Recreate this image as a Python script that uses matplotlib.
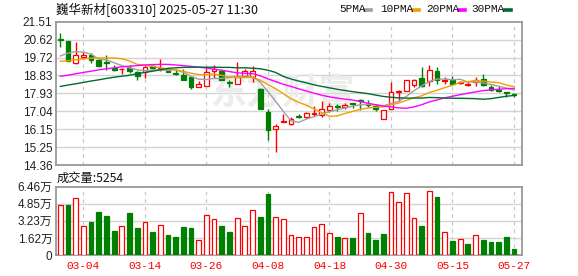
import matplotlib
matplotlib.use("Agg")
import matplotlib.pyplot as plt
from matplotlib.lines import Line2D

plt.rcParams['font.family'] = ['Liberation Sans', 'Noto Sans CJK SC', 'DejaVu Sans']

# =============================================================================
# Data
# =============================================================================

title = "巍华新材[603310] 2025-05-27 11:30"

date_idx = [3, 11, 19, 27, 35, 43, 51, 59]
date_labels = ["03-04", "03-14", "03-26", "04-08", "04-18", "04-30", "05-15", "05-27"]

opens = [20.65, 20.55, 19.44, 19.74, 19.84, 19.61, 19.51, 19.21, 19.13, 19.19,
         19.01, 18.98, 19.31, 19.14, 19.18, 18.96, 18.86, 18.76, 18.25, 18.30,
         19.03, 19.04, 18.50, 18.40, 18.81, 18.74, 18.16, 17.01, 16.16, 16.51,
         16.41, 16.82, 16.76, 16.92, 16.86, 17.12, 17.32, 17.24, 17.45, 17.62,
         17.42, 17.32, 16.67, 17.17, 17.98, 18.05, 18.36, 18.69, 18.53, 19.06,
         18.56, 18.61, 18.45, 18.36, 18.50, 18.65, 18.25, 18.08, 18.00, 17.88]
highs = [20.93, 20.57, 20.50, 19.99, 19.97, 19.67, 19.84, 19.36, 19.22, 19.34,
         19.04, 19.32, 19.34, 19.64, 19.21, 19.11, 19.14, 18.79, 18.56, 19.27,
         19.34, 19.11, 18.61, 19.52, 19.13, 19.31, 18.18, 17.15, 16.43, 16.91,
         16.76, 16.91, 16.99, 17.32, 17.54, 17.45, 17.42, 17.44, 17.47, 17.63,
         17.62, 17.42, 17.12, 18.48, 18.12, 18.61, 18.66, 19.27, 19.36, 19.27,
         18.74, 18.78, 18.56, 18.50, 18.73, 18.91, 18.36, 18.28, 18.02, 17.97]
lows = [20.24, 19.54, 19.41, 19.64, 19.47, 19.27, 19.08, 19.04, 18.91, 18.94,
        18.58, 18.68, 19.13, 19.04, 18.98, 18.86, 18.60, 18.15, 18.25, 18.28,
        18.71, 18.58, 18.25, 18.38, 18.74, 18.51, 17.14, 15.60, 15.00, 16.49,
        16.38, 16.69, 16.72, 16.79, 16.76, 17.01, 17.07, 17.17, 17.19, 17.12,
        17.25, 17.07, 16.67, 17.15, 17.55, 18.03, 18.25, 18.25, 18.31, 18.41,
        18.41, 18.35, 18.38, 18.31, 18.31, 18.31, 18.07, 17.99, 17.75, 17.75]
closes = [20.58, 19.56, 19.85, 19.87, 19.61, 19.32, 19.44, 19.09, 19.16, 19.06,
          18.78, 19.26, 19.19, 19.21, 19.00, 18.91, 18.61, 18.25, 18.41, 18.99,
          19.16, 18.61, 18.45, 18.74, 19.03, 19.06, 17.15, 16.13, 16.33, 16.54,
          16.66, 16.77, 16.94, 16.96, 17.15, 17.29, 17.25, 17.35, 17.40, 17.55,
          17.35, 17.15, 17.12, 18.00, 18.03, 18.60, 18.62, 18.31, 19.11, 18.58,
          18.60, 18.40, 18.48, 18.41, 18.61, 18.33, 18.08, 18.03, 17.93, 17.85]

ma5 = [19.80, 19.94, 20.02, 19.99, 19.89, 19.64, 19.61, 19.46, 19.32, 19.21,
       19.11, 19.07, 19.09, 19.10, 19.08, 19.11, 18.98, 18.79, 18.64, 18.63,
       18.68, 18.68, 18.72, 18.79, 18.80, 18.78, 18.49, 18.02, 17.54, 17.04,
       16.56, 16.49, 16.65, 16.77, 16.90, 17.02, 17.12, 17.20, 17.29, 17.37,
       17.38, 17.36, 17.31, 17.43, 17.53, 17.78, 18.07, 18.31, 18.53, 18.65,
       18.65, 18.61, 18.64, 18.50, 18.50, 18.45, 18.38, 18.29, 18.20, 18.10]
ma10 = [19.54, 19.56, 19.61, 19.66, 19.69, 19.70, 19.70, 19.70, 19.66, 19.55,
        19.38, 19.34, 19.28, 19.21, 19.15, 19.11, 19.03, 18.94, 18.87, 18.86,
        18.90, 18.83, 18.76, 18.72, 18.72, 18.73, 18.59, 18.37, 18.17, 17.92,
        17.67, 17.49, 17.34, 17.16, 16.97, 16.79, 16.81, 16.93, 17.03, 17.14,
        17.20, 17.24, 17.26, 17.36, 17.45, 17.58, 17.72, 17.81, 17.98, 18.09,
        18.22, 18.34, 18.48, 18.52, 18.58, 18.55, 18.50, 18.47, 18.35, 18.27]
ma20 = [18.79, 18.84, 18.91, 18.98, 19.04, 19.11, 19.16, 19.21, 19.26, 19.29,
        19.32, 19.35, 19.37, 19.38, 19.38, 19.35, 19.32, 19.28, 19.24, 19.20,
        19.14, 19.09, 19.02, 18.96, 18.93, 18.92, 18.81, 18.66, 18.52, 18.39,
        18.28, 18.16, 18.05, 17.94, 17.84, 17.76, 17.70, 17.65, 17.60, 17.53,
        17.44, 17.37, 17.30, 17.26, 17.21, 17.19, 17.26, 17.37, 17.51, 17.61,
        17.71, 17.79, 17.87, 17.94, 18.01, 18.07, 18.11, 18.14, 18.17, 18.18]
ma30 = [18.28, 18.35, 18.41, 18.48, 18.55, 18.61, 18.68, 18.74, 18.79, 18.84,
        18.91, 18.98, 19.04, 19.11, 19.18, 19.21, 19.23, 19.24, 19.24, 19.24,
        19.24, 19.23, 19.23, 19.21, 19.21, 19.19, 19.16, 19.09, 18.98, 18.78,
        18.65, 18.55, 18.46, 18.36, 18.28, 18.21, 18.14, 18.08, 18.02, 17.97,
        17.92, 17.85, 17.78, 17.74, 17.71, 17.70, 17.70, 17.70, 17.73, 17.72,
        17.70, 17.69, 17.69, 17.68, 17.67, 17.64, 17.67, 17.73, 17.79, 17.83]

volumes = [46950, 46950, 53570, 27100, 31200, 40650, 36870, 22690, 27100, 39700,
           25520, 31200, 21740, 28040, 18900, 17000, 26470, 25520, 14180, 37500,
           33720, 27410, 21740, 34660, 27100, 42220, 35920, 57660, 35600, 33720,
           18590, 16700, 17330, 26150, 28990, 20480, 17010, 15750, 16070, 39390,
           20800, 14490, 19850, 59240, 49790, 58300, 34660, 27410, 60180, 54830,
           21430, 13230, 14810, 10400, 18590, 14180, 11970, 11970, 17010, 5254]
# R = up day (hollow red bar), G = down day (filled green bar)
vol_dir = "RGRRGGGGRG" "GRGRGGGGRR" "RGGRRRGGRR" "RRRRRRGRGR" "GGGRRRRGRG" "RGRGRGGGGG"

price_ticks = [14.36, 15.25, 16.15, 17.04, 17.93, 18.83, 19.72, 20.62, 21.51]
vol_ticks = [0, 16150, 32300, 48450, 64600]
vol_tick_labels = ["0", "1.62万", "3.23万", "4.85万", "6.46万"]

ma_names = ["5PMA", "10PMA", "20PMA", "30PMA"]
ma_colors = ["#a0a0a0", "#f0a000", "#ff00ff", "#006a32"]

UP = "#ff0000"
DOWN = "#008000"
FRAME = "#999999"
GRID = "#d4d4d4"

W, H = 578, 276


def fx(px):
    return px / W


def fy(py):
    return 1 - py / H


def style_axes(ax):
    for s in ax.spines.values():
        s.set_color(FRAME)
        s.set_linewidth(1.3)
    ax.tick_params(length=0, labelsize=8.5, colors="#222222", pad=2.5)
    for i in date_idx:
        ax.axvline(i, color="#c8c8c8", lw=0.9, ls=(0, (3, 3)), zorder=0)
    ax.set_xlim(-0.56, 60.04)


fig = plt.figure(figsize=(W / 100, H / 100), dpi=100)

# =============================================================================
# Price panel
# =============================================================================
ax = fig.add_axes([fx(56), fy(165), fx(522) - fx(56), fy(21.7) - fy(165)])
style_axes(ax)
ax.set_ylim(price_ticks[0], price_ticks[-1])
ax.set_yticks(price_ticks)
ax.set_yticklabels([f"{t:.2f}" for t in price_ticks])
ax.set_xticks([])
for t in price_ticks[1:-1]:
    ax.axhline(t, color=GRID, lw=1, zorder=0)

ax.text(29, 17.95, "东方财富", fontsize=26, color="#ececec", ha="center", va="center",
        style="italic", fontweight="bold", family=["Noto Sans CJK SC"], zorder=0)

n = len(closes)
for i in range(n):
    o, c = opens[i], closes[i]
    up = c >= o
    col = UP if up else DOWN
    ax.vlines(i, lows[i], highs[i], color=col, lw=1, zorder=2)
    body = max(abs(c - o), 0.015)
    ax.bar(i, body, bottom=min(o, c), width=0.62,
           facecolor="white" if up else col, edgecolor=col, lw=0.9, zorder=3)

for vals, col in zip([ma5, ma10, ma20, ma30], ma_colors):
    ax.plot(range(n), vals, color=col, lw=1, zorder=4)

# =============================================================================
# Volume panel
# =============================================================================
axv = fig.add_axes([fx(56), fy(255), fx(522) - fx(56), fy(186.7) - fy(255)])
style_axes(axv)
axv.set_ylim(0, vol_ticks[-1])
axv.set_yticks(vol_ticks)
axv.set_yticklabels(vol_tick_labels)
for t in vol_ticks[1:-1]:
    axv.axhline(t, color=GRID, lw=1, zorder=0)

for i, v in enumerate(volumes):
    up = vol_dir[i] == "R"
    col = UP if up else DOWN
    axv.bar(i, v, width=0.62, facecolor="white" if up else col,
            edgecolor=col, lw=0.9, zorder=3)

axv.set_xticks(date_idx)
axv.set_xticklabels(date_labels, family="Liberation Mono", fontsize=8, color=UP)
axv.tick_params(axis="x", pad=4)

# =============================================================================
# Header texts and legend
# =============================================================================
fig.text(fx(56), fy(9.5), title, fontsize=9, color="#111111", va="center",
         family=["Noto Sans CJK SC", "DejaVu Sans"])
fig.text(fx(57), fy(178), "成交量:" + str(volumes[-1]), fontsize=8.8, color="#111111",
         va="center", family=["Noto Sans CJK SC", "DejaVu Sans"])

legend_x = [339, 380, 426, 471]
swatch_x = [365, 413, 459, 505]
for name, col, tx, sx in zip(ma_names, ma_colors, legend_x, swatch_x):
    fig.text(fx(tx), fy(9.5), name, fontsize=8, family="Liberation Mono",
             color="#111111", va="center")
    fig.add_artist(Line2D([fx(sx), fx(sx + 6)], [fy(9.5), fy(9.5)],
                          color=col, lw=2.6, transform=fig.transFigure))

fig.savefig("out.png", dpi=100)
